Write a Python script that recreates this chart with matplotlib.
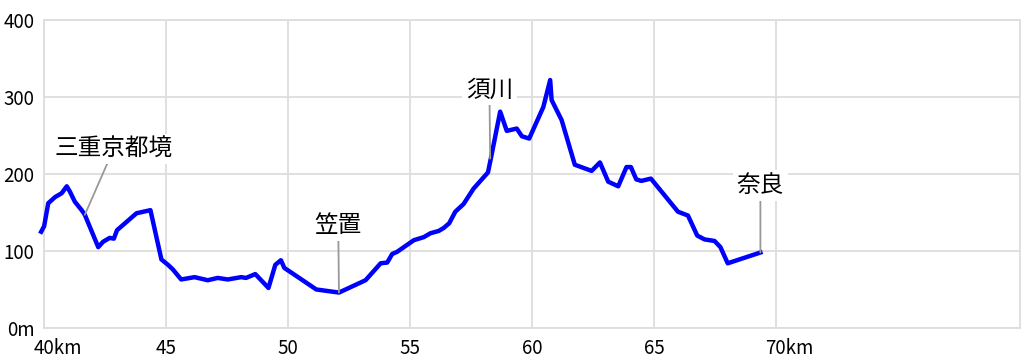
import matplotlib
matplotlib.use('agg')
import matplotlib.pyplot as plt
from matplotlib.transforms import ScaledTranslation

plt.rcParams['font.family'] = ['Noto Sans CJK JP', 'DejaVu Sans']

# elevation profile, km vs m
km = [39.87, 39.99, 40.16, 40.44, 40.71, 40.92, 41.05, 41.25, 41.53, 41.66,
      42.21, 42.41, 42.68, 42.85, 42.98, 43.78, 44.35, 44.80, 45.07, 45.27,
      45.61, 46.16, 46.70, 47.11, 47.52, 48.07, 48.27, 48.65, 49.19, 49.47,
      49.70, 49.84, 50.45, 51.15, 52.08, 53.17, 53.79, 54.06, 54.26, 54.47,
      55.15, 55.56, 55.83, 56.17, 56.38, 56.60, 56.85, 57.19, 57.60, 58.19,
      58.32, 58.69, 58.96, 59.37, 59.58, 59.88, 60.46, 60.74, 60.80, 61.21,
      61.75, 62.44, 62.78, 63.12, 63.53, 63.87, 64.05, 64.27, 64.48, 64.87,
      65.98, 66.39, 66.77, 67.07, 67.48, 67.72, 68.02, 69.36]
elev = [125, 132, 162, 170, 175, 184, 177, 164, 153, 147,
        105, 112, 117, 116, 127, 149, 153, 89, 82, 76,
        63, 66, 62, 65, 63, 66, 65, 70, 52, 82,
        88, 78, 65, 50, 46, 62, 84, 85, 96, 99,
        114, 118, 123, 126, 130, 136, 151, 161, 181, 202,
        222, 281, 256, 259, 249, 246, 287, 322, 296, 270,
        212, 204, 215, 190, 184, 209, 209, 193, 191, 194,
        151, 146, 120, 115, 113, 105, 84, 98]

# place labels: name, point on profile, label position
names = ['三重京都境', '笠置', '須川', '奈良']
name_xy = [(41.66, 147), (52.08, 46), (58.28, 220), (69.36, 98)]
name_txt = [(42.85, 233), (52.05, 133), (58.25, 309), (69.36, 185)]

xticks = [40, 45, 50, 55, 60, 65, 70]
xlabels = ['40km', '45', '50', '55', '60', '65', '70km']
yticks = [0, 100, 200, 300, 400]
ylabels = ['0m', '100', '200', '300', '400']

fig = plt.figure(figsize=(10.24, 3.62), dpi=100)
ax = fig.add_axes([0.0433, 0.094, 0.9527, 0.8508])

ax.plot(km, elev, color='#0000ff', lw=3.2, clip_on=False, zorder=3,
        solid_joinstyle='round')

for nm, xy, xt in zip(names, name_xy, name_txt):
    ax.annotate(nm, xy=xy, xytext=xt, ha='center', va='center', fontsize=17,
                color='black', zorder=4,
                bbox=dict(boxstyle='square,pad=0.15', fc='white', ec='none'),
                arrowprops=dict(arrowstyle='-', color='#999999', lw=1.3,
                                shrinkA=0, shrinkB=0))

ax.set_xlim(40, 80)
ax.set_ylim(0, 400)
ax.set_xticks(xticks)
ax.set_xticklabels(xlabels, fontsize=13.5)
ax.set_yticks(yticks)
ax.set_yticklabels(ylabels, fontsize=13.5)
ax.tick_params(length=0, pad=7)
ax.grid(color='#dddddd', lw=1.3)
ax.set_axisbelow(True)
for s in ax.spines.values():
    s.set_color('#dddddd')
    s.set_linewidth(1.3)

# keep the number centred under the tick, unit hangs to the right
for lab in ax.get_xticklabels():
    if lab.get_text().endswith('km'):
        lab.set_ha('left')
        lab.set_transform(lab.get_transform() +
                          ScaledTranslation(-11 / 100, 0, fig.dpi_scale_trans))

fig.savefig('out.png', dpi=100)
